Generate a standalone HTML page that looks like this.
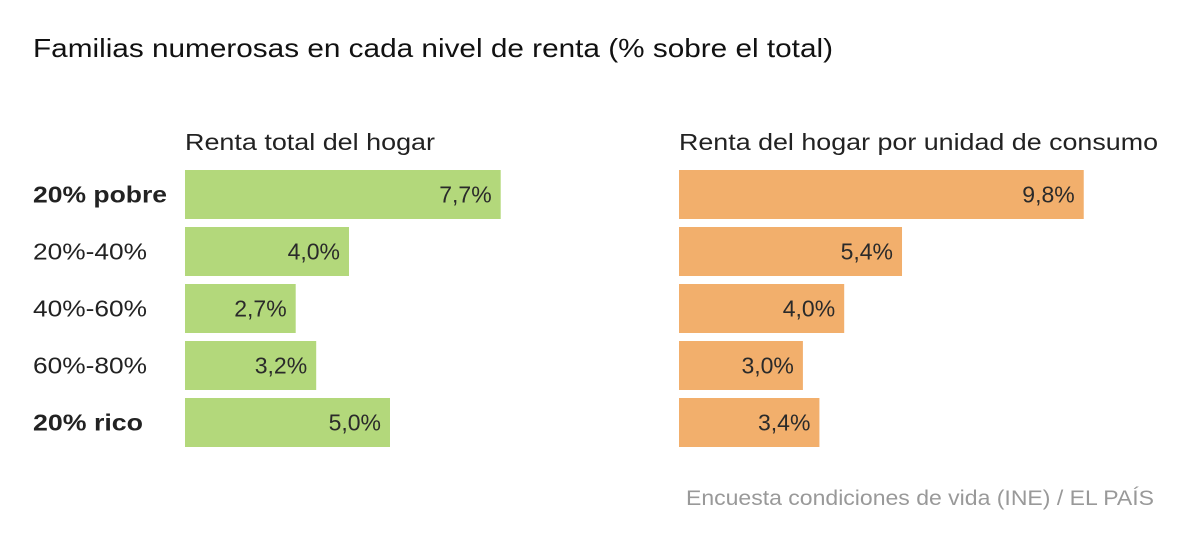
<!DOCTYPE html>
<html><head><meta charset="utf-8"><style>
body{margin:0;background:#fff;width:1200px;height:533px;overflow:hidden;font-family:"Liberation Sans",sans-serif}
</style></head><body>
<svg width="1200" height="533" id="chart">
<text x="33" y="57" font-size="26" fill="#111" textLength="800" lengthAdjust="spacingAndGlyphs">Familias numerosas en cada nivel de renta (% sobre el total)</text>
<text x="185" y="150" font-size="23" fill="#222" textLength="250" lengthAdjust="spacingAndGlyphs">Renta total del hogar</text>
<text x="679" y="150" font-size="23" fill="#222" textLength="479" lengthAdjust="spacingAndGlyphs">Renta del hogar por unidad de consumo</text>
<text x="686" y="505" font-size="21" fill="#999" textLength="468" lengthAdjust="spacingAndGlyphs">Encuesta condiciones de vida (INE) / EL PAÍS</text>
<g id="bars"></g>
</svg>
<script>
const categories=["20% pobre","20%-40%","40%-60%","60%-80%","20% rico"];
const boldCats=[true,false,false,false,true];
const totalValues=[7.7,4.0,2.7,3.2,5.0];
const perUnitValues=[9.8,5.4,4.0,3.0,3.4];
const NS="http://www.w3.org/2000/svg";
const g=document.getElementById('bars');
const y0=170,step=57,bh=49;
function mk(tag,attrs){const e=document.createElementNS(NS,tag);for(const k in attrs)e.setAttribute(k,attrs[k]);g.appendChild(e);return e;}
function xl(v){return v*41.0;}
function xr(v){return v*41.3;}
function fmt(v){return v.toFixed(1).replace('.',',')+'%';}
categories.forEach((c,i)=>{
  const y=y0+i*step;
  const t=mk('text',{x:33,y:y+bh/2+8,'font-size':23,fill:'#222','font-weight':boldCats[i]?'bold':'normal',textLength:boldCats[i]?(i==0?134:110):114,lengthAdjust:'spacingAndGlyphs'});
  t.textContent=c;
  
  
  const b1=mk('rect',{x:185,y:y,width:xl(totalValues[i]),height:bh,fill:'#b3d87b'});
  
  
  const l1=mk('text',{x:185+xl(totalValues[i])-9,y:y+bh/2+8,'font-size':23,fill:'#2a2a2a','text-anchor':'end'});
  l1.textContent=fmt(totalValues[i]);
  
  
  const b2=mk('rect',{x:679,y:y,width:xr(perUnitValues[i]),height:bh,fill:'#f2af6c'});
  
  
  const l2=mk('text',{x:679+xr(perUnitValues[i])-9,y:y+bh/2+8,'font-size':23,fill:'#2a2a2a','text-anchor':'end'});
  l2.textContent=fmt(perUnitValues[i]);
  
  
});
</script>
</body></html>
